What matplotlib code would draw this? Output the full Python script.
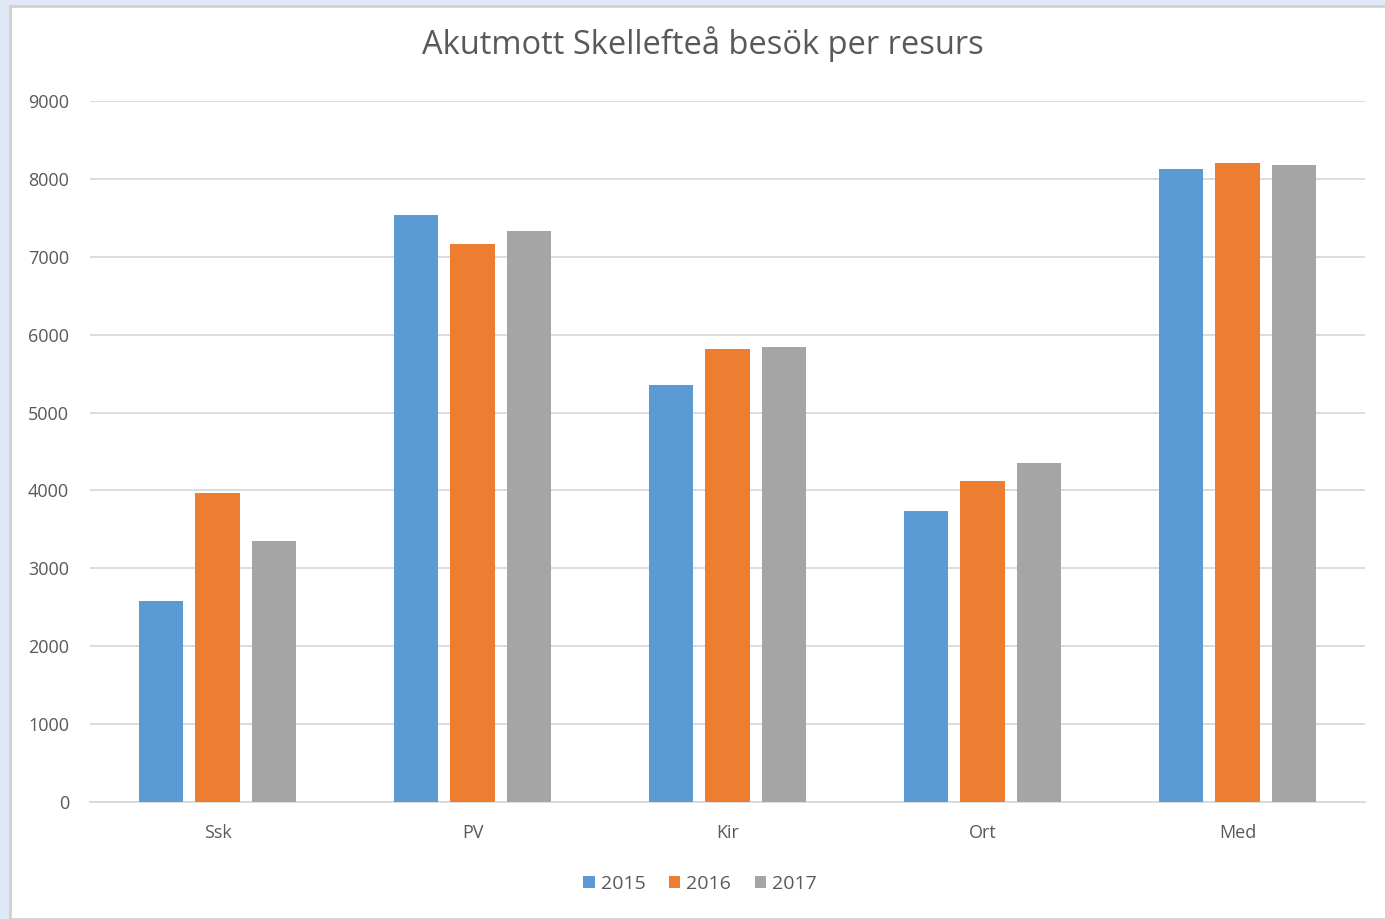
import numpy as np
import matplotlib.pyplot as plt
from matplotlib.patches import Rectangle

categories = ["Ssk", "PV", "Kir", "Ort", "Med"]
years = ["2015", "2016", "2017"]
visits_2015 = [2580, 7540, 5350, 3740, 8130]
visits_2016 = [3970, 7160, 5820, 4120, 8200]
visits_2017 = [3350, 7330, 5840, 4350, 8180]
colors = ["#5B9BD5", "#ED7D31", "#A5A5A5"]

plt.rcParams['font.family'] = ['Open Sans', 'DejaVu Sans']
text_color = "#595959"

W, H = 1385, 919
fig = plt.figure(figsize=(W / 100, H / 100), dpi=100)
fig.patch.set_facecolor("#DFE9F6")
fig.patches.append(Rectangle((10 / W, 0), 1 - 10 / W + 0.01, 1 - 6 / H,
                             transform=fig.transFigure, facecolor="white",
                             edgecolor="#D0D0D0", linewidth=2, zorder=-10))

ax = fig.add_axes([90 / W, 1 - 802 / H, 1275 / W, 701 / H])
ax.set_facecolor("none")
ax.set_zorder(5)

x = np.arange(len(categories))
width = 0.173
step = 0.22
series = [visits_2015, visits_2016, visits_2017]
for i, (vals, c, lab) in enumerate(zip(series, colors, years)):
    ax.bar(x + (i - 1) * step, vals, width, color=c, label=lab, zorder=3)

ax.set_xlim(-0.5, 4.5)
ax.set_ylim(0, 9000)
ax.set_yticks(np.arange(0, 9001, 1000))
ax.grid(axis="y", color="#D9D9D9", linewidth=1.3, zorder=0)
ax.set_xticks(x)
ax.set_xticklabels(categories)
for s in ["top", "right", "left"]:
    ax.spines[s].set_visible(False)
ax.spines["bottom"].set_color("#D9D9D9")
ax.spines["bottom"].set_linewidth(1.3)
ax.tick_params(axis="both", length=0, colors=text_color, labelsize=13)
ax.tick_params(axis="y", pad=15)
ax.tick_params(axis="x", pad=16)

fig.text(703 / W, 1 - 44 / H, "Akutmott Skellefteå besök per resurs",
         ha="center", va="center", fontsize=23.5, color=text_color)

leg = ax.legend(loc="center", bbox_to_anchor=(700 / W, 1 - 884 / H),
                bbox_transform=fig.transFigure, ncol=3, frameon=False,
                fontsize=14, handlelength=0.6, handleheight=0.6,
                handletextpad=0.3, columnspacing=1.2)
for t in leg.get_texts():
    t.set_color(text_color)

fig.savefig("out.png", dpi=100)
